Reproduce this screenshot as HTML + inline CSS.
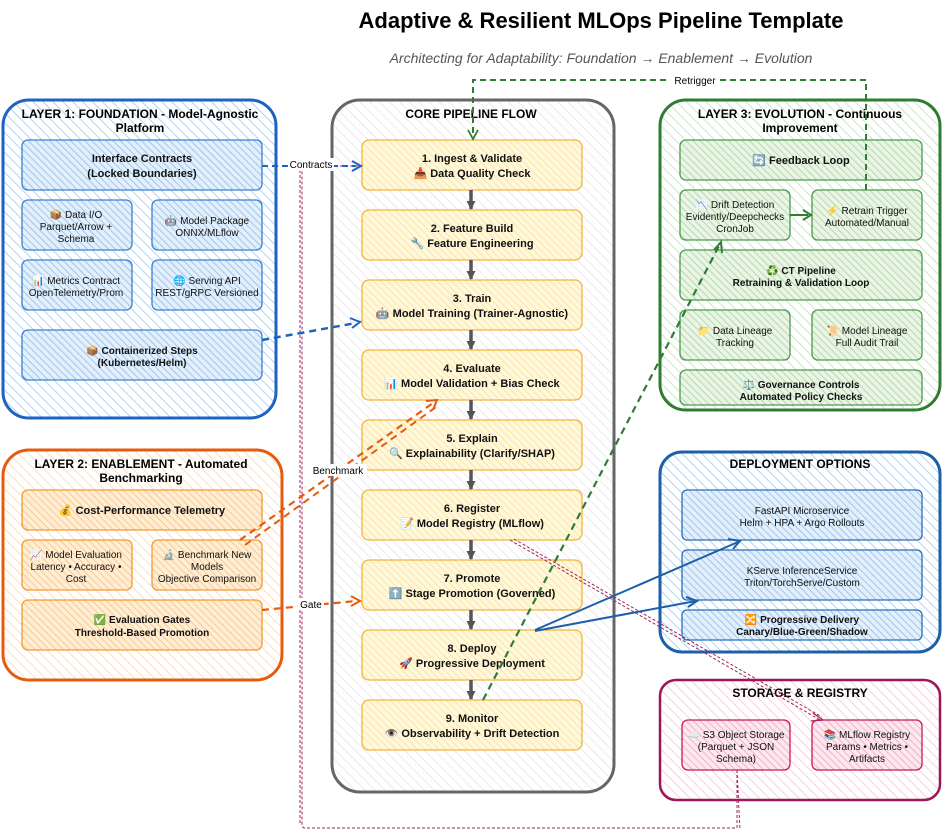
<!DOCTYPE html>
<html><head><meta charset="utf-8"><style>
html,body{margin:0;padding:0;background:#fff;}
svg{display:block;font-family:"Liberation Sans","Noto Sans CJK SC",sans-serif;}
.t{font-weight:bold;font-size:12px;fill:#000;text-anchor:middle}
.n{font-size:10px;fill:#111;text-anchor:middle}
.b{font-weight:bold;font-size:10px;fill:#111;text-anchor:middle}
.s{font-weight:bold;font-size:11px;fill:#111;text-anchor:middle}
.l{font-size:10px;fill:#111;text-anchor:middle}
</style></head><body>
<svg width="952" height="839" viewBox="0 0 952 839" xmlns="http://www.w3.org/2000/svg">
<defs>
<pattern id="pb" width="7" height="7" patternUnits="userSpaceOnUse" patternTransform="rotate(-45)"><rect width="7" height="7" fill="#fff"/><line x1="0" y1="0" x2="0" y2="7" stroke="#a9d0f0" stroke-width="1.8"/></pattern>
<pattern id="pbi" width="5" height="5" patternUnits="userSpaceOnUse" patternTransform="rotate(-45)"><rect width="5" height="5" fill="#e3effb"/><line x1="0" y1="0" x2="0" y2="5" stroke="#94c0ec" stroke-width="1.7"/></pattern>
<pattern id="po" width="7" height="7" patternUnits="userSpaceOnUse" patternTransform="rotate(-45)"><rect width="7" height="7" fill="#fff"/><line x1="0" y1="0" x2="0" y2="7" stroke="#fcdcb6" stroke-width="1.8"/></pattern>
<pattern id="poi" width="5" height="5" patternUnits="userSpaceOnUse" patternTransform="rotate(-45)"><rect width="5" height="5" fill="#ffedd5"/><line x1="0" y1="0" x2="0" y2="5" stroke="#f8c680" stroke-width="1.7"/></pattern>
<pattern id="pg" width="7" height="7" patternUnits="userSpaceOnUse" patternTransform="rotate(-45)"><rect width="7" height="7" fill="#fff"/><line x1="0" y1="0" x2="0" y2="7" stroke="#c8e3c0" stroke-width="1.8"/></pattern>
<pattern id="pgi" width="5" height="5" patternUnits="userSpaceOnUse" patternTransform="rotate(-45)"><rect width="5" height="5" fill="#eaf5e6"/><line x1="0" y1="0" x2="0" y2="5" stroke="#acd4a4" stroke-width="1.7"/></pattern>
<pattern id="pc" width="7" height="7" patternUnits="userSpaceOnUse" patternTransform="rotate(-45)"><rect width="7" height="7" fill="#fff"/><line x1="0" y1="0" x2="0" y2="7" stroke="#e3e3e3" stroke-width="1.4"/></pattern>
<pattern id="py" width="5" height="5" patternUnits="userSpaceOnUse" patternTransform="rotate(-45)"><rect width="5" height="5" fill="#fff8dc"/><line x1="0" y1="0" x2="0" y2="5" stroke="#fae39a" stroke-width="1.7"/></pattern>
<pattern id="pr" width="7" height="7" patternUnits="userSpaceOnUse" patternTransform="rotate(-45)"><rect width="7" height="7" fill="#fff"/><line x1="0" y1="0" x2="0" y2="7" stroke="#f6ccd8" stroke-width="1.8"/></pattern>
<pattern id="pri" width="5" height="5" patternUnits="userSpaceOnUse" patternTransform="rotate(-45)"><rect width="5" height="5" fill="#fce8ee"/><line x1="0" y1="0" x2="0" y2="5" stroke="#f0aac0" stroke-width="1.7"/></pattern>
<marker id="ag" markerWidth="9" markerHeight="9" refX="8" refY="4.5" orient="auto" markerUnits="userSpaceOnUse"><path d="M0,0 L9,4.5 L0,9 Z" fill="#555"/></marker>
</defs>

<text x="601" y="28" font-size="22" font-weight="bold" text-anchor="middle">Adaptive &amp; Resilient MLOps Pipeline Template</text>
<text x="601" y="63" font-size="14" font-style="italic" fill="#555" text-anchor="middle">Architecting for Adaptability: Foundation → Enablement → Evolution</text>

<!-- Layer 1 -->
<rect x="3" y="100" width="273" height="318" rx="26" fill="url(#pb)" stroke="#1d63c3" stroke-width="3"/>
<text class="t" x="140" y="118">LAYER 1: FOUNDATION - Model-Agnostic</text>
<text class="t" x="140" y="132">Platform</text>
<g stroke="#3d7fd0" stroke-width="1.3" fill="url(#pbi)">
<rect x="22" y="140" width="240" height="50" rx="6"/>
<rect x="22" y="200" width="110" height="50" rx="6"/>
<rect x="152" y="200" width="110" height="50" rx="6"/>
<rect x="22" y="260" width="110" height="50" rx="6"/>
<rect x="152" y="260" width="110" height="50" rx="6"/>
<rect x="22" y="330" width="240" height="50" rx="6"/>
</g>
<text class="s" x="142" y="162">Interface Contracts</text>
<text class="s" x="142" y="177">(Locked Boundaries)</text>
<text class="l" x="76" y="218">📦 Data I/O</text><text class="l" x="76" y="230">Parquet/Arrow +</text><text class="l" x="76" y="242">Schema</text>
<text class="l" x="207" y="224">🤖 Model Package</text><text class="l" x="207" y="236">ONNX/MLflow</text>
<text class="l" x="76" y="284">📊 Metrics Contract</text><text class="l" x="76" y="296">OpenTelemetry/Prom</text>
<text class="l" x="207" y="284">🌐 Serving API</text><text class="l" x="207" y="296">REST/gRPC Versioned</text>
<text class="b" x="142" y="354">📦 Containerized Steps</text><text class="b" x="142" y="366">(Kubernetes/Helm)</text>

<!-- Layer 2 -->
<rect x="3" y="450" width="279" height="230" rx="26" fill="url(#po)" stroke="#e65c0e" stroke-width="3"/>
<text class="t" x="141" y="468">LAYER 2: ENABLEMENT - Automated</text>
<text class="t" x="141" y="482">Benchmarking</text>
<g stroke="#f39a30" stroke-width="1.3" fill="url(#poi)">
<rect x="22" y="490" width="240" height="40" rx="6"/>
<rect x="22" y="540" width="110" height="50" rx="6"/>
<rect x="152" y="540" width="110" height="50" rx="6"/>
<rect x="22" y="600" width="240" height="50" rx="6"/>
</g>
<text class="s" x="142" y="514">💰 Cost-Performance Telemetry</text>
<text class="l" x="76" y="558">📈 Model Evaluation</text><text class="l" x="76" y="570">Latency • Accuracy •</text><text class="l" x="76" y="582">Cost</text>
<text class="l" x="207" y="558">🔬 Benchmark New</text><text class="l" x="207" y="570">Models</text><text class="l" x="207" y="582">Objective Comparison</text>
<text class="b" x="142" y="623">✅ Evaluation Gates</text><text class="b" x="142" y="636">Threshold-Based Promotion</text>

<!-- Core -->
<rect x="332" y="100" width="282" height="692" rx="28" fill="url(#pc)" stroke="#666" stroke-width="3"/>
<text class="t" x="471" y="118">CORE PIPELINE FLOW</text>
<g stroke="#f3b33d" stroke-width="1.3" fill="url(#py)">
<rect x="362" y="140" width="220" height="50" rx="7"/>
<rect x="362" y="210" width="220" height="50" rx="7"/>
<rect x="362" y="280" width="220" height="50" rx="7"/>
<rect x="362" y="350" width="220" height="50" rx="7"/>
<rect x="362" y="420" width="220" height="50" rx="7"/>
<rect x="362" y="490" width="220" height="50" rx="7"/>
<rect x="362" y="560" width="220" height="50" rx="7"/>
<rect x="362" y="630" width="220" height="50" rx="7"/>
<rect x="362" y="700" width="220" height="50" rx="7"/>
</g>
<text class="s" x="472" y="162">1. Ingest &amp; Validate</text><text class="s" x="472" y="177">📥 Data Quality Check</text>
<text class="s" x="472" y="232">2. Feature Build</text><text class="s" x="472" y="247">🔧 Feature Engineering</text>
<text class="s" x="472" y="302">3. Train</text><text class="s" x="472" y="317">🤖 Model Training (Trainer-Agnostic)</text>
<text class="s" x="472" y="372">4. Evaluate</text><text class="s" x="472" y="387">📊 Model Validation + Bias Check</text>
<text class="s" x="472" y="442">5. Explain</text><text class="s" x="472" y="457">🔍 Explainability (Clarify/SHAP)</text>
<text class="s" x="472" y="512">6. Register</text><text class="s" x="472" y="527">📝 Model Registry (MLflow)</text>
<text class="s" x="472" y="582">7. Promote</text><text class="s" x="472" y="597">⬆️ Stage Promotion (Governed)</text>
<text class="s" x="472" y="652">8. Deploy</text><text class="s" x="472" y="667">🚀 Progressive Deployment</text>
<text class="s" x="472" y="722">9. Monitor</text><text class="s" x="472" y="737">👁️ Observability + Drift Detection</text>
<g stroke="#555" stroke-width="3.5" marker-end="url(#ag)">
<line x1="471" y1="190" x2="471" y2="209"/><line x1="471" y1="260" x2="471" y2="279"/>
<line x1="471" y1="330" x2="471" y2="349"/><line x1="471" y1="400" x2="471" y2="419"/>
<line x1="471" y1="470" x2="471" y2="489"/><line x1="471" y1="540" x2="471" y2="559"/>
<line x1="471" y1="610" x2="471" y2="629"/><line x1="471" y1="680" x2="471" y2="699"/>
</g>

<!-- Layer 3 -->
<rect x="660" y="100" width="280" height="310" rx="26" fill="url(#pg)" stroke="#2e7d32" stroke-width="3"/>
<text class="t" x="800" y="118">LAYER 3: EVOLUTION - Continuous</text>
<text class="t" x="800" y="132">Improvement</text>
<g stroke="#4c9a50" stroke-width="1.3" fill="url(#pgi)">
<rect x="680" y="140" width="242" height="40" rx="6"/>
<rect x="680" y="190" width="110" height="50" rx="6"/>
<rect x="812" y="190" width="110" height="50" rx="6"/>
<rect x="680" y="250" width="242" height="50" rx="6"/>
<rect x="680" y="310" width="110" height="50" rx="6"/>
<rect x="812" y="310" width="110" height="50" rx="6"/>
<rect x="680" y="370" width="242" height="35" rx="6"/>
</g>
<text class="s" x="801" y="164">🔄 Feedback Loop</text>
<text class="l" x="735" y="208">📉 Drift Detection</text><text class="l" x="735" y="220">Evidently/Deepchecks</text><text class="l" x="735" y="232">CronJob</text>
<text class="l" x="867" y="214">⚡ Retrain Trigger</text><text class="l" x="867" y="226">Automated/Manual</text>
<text class="b" x="801" y="274">♻️ CT Pipeline</text><text class="b" x="801" y="286">Retraining &amp; Validation Loop</text>
<text class="l" x="735" y="334">📁 Data Lineage</text><text class="l" x="735" y="346">Tracking</text>
<text class="l" x="867" y="334">📜 Model Lineage</text><text class="l" x="867" y="346">Full Audit Trail</text>
<text class="b" x="801" y="388">⚖️ Governance Controls</text><text class="b" x="801" y="400">Automated Policy Checks</text>
<line x1="790" y1="215" x2="808" y2="215" stroke="#2e7d32" stroke-width="2"/><path d="M803,210 L811,215 L803,220" fill="none" stroke="#2e7d32" stroke-width="2"/>

<!-- Deployment -->
<rect x="660" y="452" width="280" height="200" rx="22" fill="url(#pb)" stroke="#1d5fa8" stroke-width="3"/>
<text class="t" x="800" y="468">DEPLOYMENT OPTIONS</text>
<g stroke="#2a6cbd" stroke-width="1.3" fill="url(#pbi)">
<rect x="682" y="490" width="240" height="50" rx="5"/>
<rect x="682" y="550" width="240" height="50" rx="5"/>
<rect x="682" y="610" width="240" height="30" rx="5"/>
</g>
<text class="n" x="802" y="514">FastAPI Microservice</text><text class="n" x="802" y="526">Helm + HPA + Argo Rollouts</text>
<text class="n" x="802" y="574">KServe InferenceService</text><text class="n" x="802" y="586">Triton/TorchServe/Custom</text>
<text class="b" x="802" y="623">🔀 Progressive Delivery</text><text class="b" x="802" y="635">Canary/Blue-Green/Shadow</text>

<!-- Storage -->
<rect x="660" y="680" width="280" height="120" rx="16" fill="url(#pr)" stroke="#9c1658" stroke-width="2.5"/>
<text class="t" x="800" y="697">STORAGE &amp; REGISTRY</text>
<g stroke="#c8185a" stroke-width="1.3" fill="url(#pri)">
<rect x="682" y="720" width="108" height="50" rx="6"/>
<rect x="812" y="720" width="110" height="50" rx="6"/>
</g>
<text class="l" x="736" y="738">☁️ S3 Object Storage</text><text class="l" x="736" y="750">(Parquet + JSON</text><text class="l" x="736" y="762">Schema)</text>
<text class="l" x="867" y="738">📚 MLflow Registry</text><text class="l" x="867" y="750">Params • Metrics •</text><text class="l" x="867" y="762">Artifacts</text>

<!-- Connectors -->
<path d="M737,770 L737,828 L305,828 Q302,828 302,824 L302,170 Q302,166 306,166 L358,166" fill="none" stroke="#a0245e" stroke-width="1" stroke-dasharray="3,2"/>
<path d="M737,770 L740,830 M300,170 L300,825" fill="none" stroke="#a0245e" stroke-width="1" stroke-dasharray="3,2"/>
<path d="M510,540 L820,720" stroke="#a0245e" stroke-width="1" stroke-dasharray="3,2"/>
<path d="M514,539 L822,717" stroke="#a0245e" stroke-width="1" stroke-dasharray="3,2"/>
<path d="M813,713 L823,720 L811,721" fill="none" stroke="#a0245e" stroke-width="1.3"/>
<line x1="262" y1="166" x2="356" y2="166" stroke="#1d63c3" stroke-width="2" stroke-dasharray="6,4"/>
<path d="M352,161 L361,166 L352,171" fill="none" stroke="#1d63c3" stroke-width="2"/>
<rect x="288" y="158" width="46" height="13" fill="#fff"/>
<text x="311" y="168" font-size="10" text-anchor="middle">Contracts</text>
<line x1="262" y1="340" x2="356" y2="323" stroke="#1d63c3" stroke-width="2.5" stroke-dasharray="7,5"/>
<path d="M350,318 L360,322 L352,328" fill="none" stroke="#1d63c3" stroke-width="2"/>
<line x1="240" y1="540" x2="433" y2="403" stroke="#e65c0e" stroke-width="2.2" stroke-dasharray="7,5"/>
<line x1="245" y1="545" x2="436" y2="407" stroke="#e65c0e" stroke-width="2" stroke-dasharray="7,5"/>
<path d="M426,401 L437,400 L433,410" fill="none" stroke="#e65c0e" stroke-width="2"/>
<rect x="311" y="464" width="56" height="12" fill="#fff"/>
<text x="338" y="474" font-size="10" text-anchor="middle">Benchmark</text>
<line x1="262" y1="610" x2="356" y2="601" stroke="#e65c0e" stroke-width="2.2" stroke-dasharray="7,5"/>
<path d="M351,596 L360,601 L351,606" fill="none" stroke="#e65c0e" stroke-width="2"/>
<rect x="298" y="598" width="26" height="12" fill="#fff"/>
<text x="311" y="608" font-size="10" text-anchor="middle">Gate</text>
<path d="M866,190 L866,80 L473,80 L473,136" fill="none" stroke="#2e7d32" stroke-width="2" stroke-dasharray="6,4"/>
<path d="M468,130 L473,139 L478,130" fill="none" stroke="#2e7d32" stroke-width="1.8"/>
<rect x="670" y="74" width="50" height="12" fill="#fff"/>
<text x="695" y="84" font-size="10" text-anchor="middle">Retrigger</text>
<line x1="483" y1="700" x2="720" y2="244" stroke="#2e7d32" stroke-width="2.2" stroke-dasharray="7,5"/>
<path d="M714,250 L721,242 L722,253" fill="none" stroke="#2e7d32" stroke-width="2"/>
<line x1="535" y1="630" x2="738" y2="542" stroke="#1d5fa8" stroke-width="2"/>
<path d="M728,539 L740,541 L733,549" fill="none" stroke="#1d5fa8" stroke-width="2"/>
<line x1="535" y1="631" x2="696" y2="601" stroke="#1d5fa8" stroke-width="2"/>
<path d="M686,597 L697,601 L688,607" fill="none" stroke="#1d5fa8" stroke-width="2"/>
</svg>
</body></html>
